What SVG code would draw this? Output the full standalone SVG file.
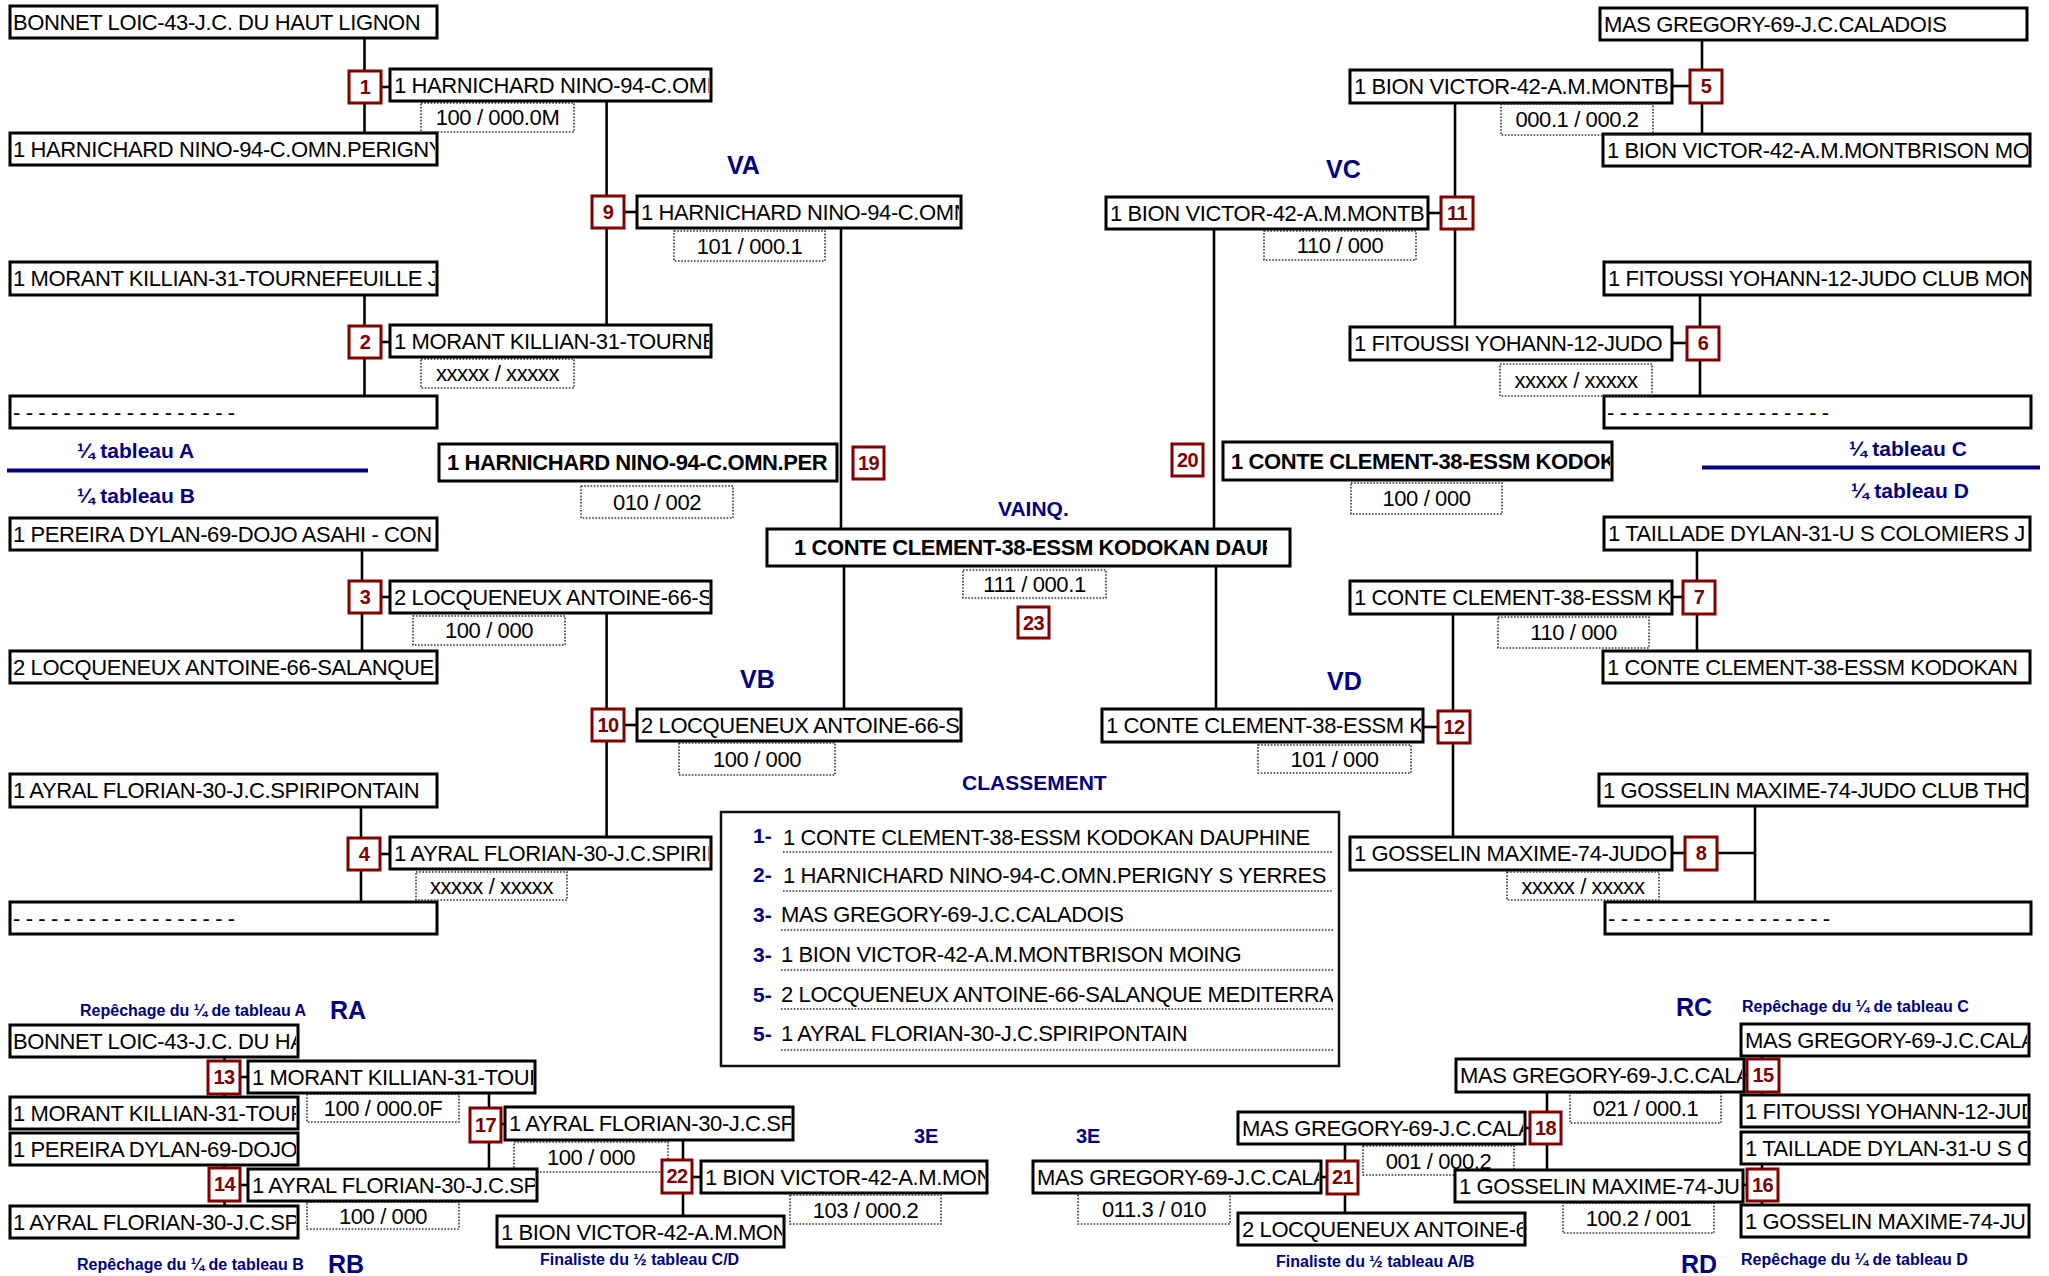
<svg xmlns="http://www.w3.org/2000/svg" width="2049" height="1276" viewBox="0 0 2049 1276">
<style>
text{font-family:"Liberation Sans",Arial,sans-serif}
.pb{fill:#fff;stroke:#000;stroke-width:3}
.t{font-size:22px;letter-spacing:-0.4px;fill:#000}
.tb{font-size:22px;letter-spacing:-0.4px;fill:#000;font-weight:bold}
.rb{fill:#fff;stroke:#800000;stroke-width:3}
.rn{font-size:20px;letter-spacing:-0.5px;font-weight:bold;fill:#800000;text-anchor:middle}
.sb{fill:none;stroke:#333;stroke-width:1.6;stroke-dasharray:1.6 1.6}
.st{font-size:22px;letter-spacing:-0.4px;fill:#000;text-anchor:middle}
.nv{fill:#000080;font-weight:bold}
.big{font-size:25px}
.mid{font-size:21px}
.sm{font-size:16px}
.conn line{stroke:#000;stroke-width:2.6}
.dl{stroke:#333;stroke-width:1.6;stroke-dasharray:1.6 1.6}
</style>

<g id="connectors" class="conn">
<line x1="364.5" y1="38" x2="364.5" y2="133"/>
<line x1="364.5" y1="295" x2="364.5" y2="396"/>
<line x1="362" y1="550" x2="362" y2="651"/>
<line x1="361" y1="807" x2="361" y2="902"/>
<line x1="381" y1="87" x2="390" y2="87"/>
<line x1="381" y1="342" x2="390" y2="342"/>
<line x1="381" y1="597" x2="390" y2="597"/>
<line x1="380" y1="854" x2="390" y2="854"/>
<line x1="606.6" y1="101" x2="606.6" y2="325"/>
<line x1="606.6" y1="613" x2="606.6" y2="837"/>
<line x1="624" y1="212" x2="637" y2="212"/>
<line x1="624" y1="725" x2="637" y2="725"/>
<line x1="841" y1="228" x2="841" y2="529"/>
<line x1="844" y1="566" x2="844" y2="709"/>
<line x1="1702" y1="40" x2="1702" y2="134"/>
<line x1="1700" y1="295" x2="1700" y2="396"/>
<line x1="1697" y1="550" x2="1697" y2="651"/>
<line x1="1755" y1="806" x2="1755" y2="902"/>
<line x1="1672" y1="86" x2="1690" y2="86"/>
<line x1="1672" y1="343" x2="1687" y2="343"/>
<line x1="1672" y1="597" x2="1683" y2="597"/>
<line x1="1672" y1="853" x2="1685" y2="853"/>
<line x1="1717" y1="853" x2="1755" y2="853"/>
<line x1="1455" y1="103" x2="1455" y2="327"/>
<line x1="1453" y1="614" x2="1453" y2="837"/>
<line x1="1428" y1="213" x2="1441" y2="213"/>
<line x1="1423" y1="727" x2="1438" y2="727"/>
<line x1="1214" y1="229" x2="1214" y2="529"/>
<line x1="1216" y1="566" x2="1216" y2="709"/>
<line x1="224.5" y1="1057" x2="224.5" y2="1097"/>
<line x1="224.5" y1="1165" x2="224.5" y2="1206"/>
<line x1="240" y1="1077" x2="248" y2="1077"/>
<line x1="240" y1="1185" x2="248" y2="1185"/>
<line x1="489" y1="1093" x2="489" y2="1169"/>
<line x1="501" y1="1124" x2="505" y2="1124"/>
<line x1="683" y1="1140" x2="683" y2="1216"/>
<line x1="692" y1="1177" x2="701" y2="1177"/>
<line x1="1762" y1="1056" x2="1762" y2="1095"/>
<line x1="1762" y1="1164" x2="1762" y2="1205"/>
<line x1="1744" y1="1075" x2="1747" y2="1075"/>
<line x1="1743" y1="1185" x2="1747" y2="1185"/>
<line x1="1547" y1="1092" x2="1547" y2="1170"/>
<line x1="1525" y1="1128" x2="1530" y2="1128"/>
<line x1="1345" y1="1144" x2="1345" y2="1213"/>
<line x1="1321" y1="1177" x2="1327" y2="1177"/>
</g>

<!-- labels -->
<g id="labels">
<text class="nv mid" x="77" y="458">¼ tableau A</text>
<line x1="7" y1="470.5" x2="368" y2="470.5" stroke="#000080" stroke-width="4"/>
<text class="nv mid" x="77" y="503">¼ tableau B</text>
<text class="nv mid" x="1849" y="456">¼ tableau C</text>
<line x1="1702" y1="467.5" x2="2040" y2="467.5" stroke="#000080" stroke-width="4"/>
<text class="nv mid" x="1851" y="498">¼ tableau D</text>
<text class="nv big" x="727" y="174">VA</text>
<text class="nv big" x="740" y="688">VB</text>
<text class="nv big" x="1326" y="178">VC</text>
<text class="nv big" x="1327" y="690">VD</text>
<text class="nv mid" x="998" y="516">VAINQ.</text>
<text class="nv mid" x="962" y="790">CLASSEMENT</text>
<text class="nv sm" x="80" y="1016">Repêchage du ¼ de tableau A</text>
<text class="nv big" x="330" y="1019">RA</text>
<text class="nv sm" x="77" y="1270">Repêchage du ¼ de tableau B</text>
<text class="nv big" x="328" y="1273">RB</text>
<text class="nv sm" x="540" y="1265">Finaliste du ½ tableau C/D</text>
<text class="nv" font-size="20" x="914" y="1143">3E</text>
<text class="nv" font-size="20" x="1076" y="1143">3E</text>
<text class="nv sm" x="1276" y="1267">Finaliste du ½ tableau A/B</text>
<text class="nv big" x="1676" y="1016">RC</text>
<text class="nv sm" x="1742" y="1012">Repêchage du ¼ de tableau C</text>
<text class="nv big" x="1681" y="1273">RD</text>
<text class="nv sm" x="1741" y="1265">Repêchage du ¼ de tableau D</text>
</g>

<!-- left main column -->
<g id="p-l1"><rect class="pb" x="10" y="6" width="427" height="32"/><svg x="10" y="6" width="425" height="32"><text class="t" x="3" y="24">BONNET LOIC-43-J.C. DU HAUT LIGNON</text></svg></g>
<g id="p-l2"><rect class="pb" x="10" y="133" width="427" height="32"/><svg x="10" y="133" width="425" height="32"><text class="t" x="3" y="24">1 HARNICHARD NINO-94-C.OMN.PERIGNY</text></svg></g>
<g id="p-l3"><rect class="pb" x="10" y="262" width="427" height="33"/><svg x="10" y="262" width="425" height="33"><text class="t" x="3" y="24">1 MORANT KILLIAN-31-TOURNEFEUILLE J</text></svg></g>
<g id="p-l4"><rect class="pb" x="10" y="396" width="427" height="32"/><text class="t" x="13" y="420">- - - - - - - - - - - - - - - - - -</text></g>
<g id="p-l5"><rect class="pb" x="10" y="518" width="427" height="32"/><svg x="10" y="518" width="425" height="32"><text class="t" x="3" y="24">1 PEREIRA DYLAN-69-DOJO ASAHI - CON</text></svg></g>
<g id="p-l6"><rect class="pb" x="10" y="651" width="427" height="32"/><svg x="10" y="651" width="425" height="32"><text class="t" x="3" y="24">2 LOCQUENEUX ANTOINE-66-SALANQUE</text></svg></g>
<g id="p-l7"><rect class="pb" x="10" y="774" width="427" height="33"/><svg x="10" y="774" width="425" height="33"><text class="t" x="3" y="24">1 AYRAL FLORIAN-30-J.C.SPIRIPONTAIN</text></svg></g>
<g id="p-l8"><rect class="pb" x="10" y="902" width="427" height="32"/><text class="t" x="13" y="926">- - - - - - - - - - - - - - - - - -</text></g>

<!-- left round 1 -->
<g id="m1"><rect class="rb" x="349" y="71" width="32" height="32"/><text class="rn" x="365" y="94">1</text></g>
<g id="m2"><rect class="rb" x="349" y="326" width="32" height="32"/><text class="rn" x="365" y="349">2</text></g>
<g id="m3"><rect class="rb" x="349" y="581" width="32" height="32"/><text class="rn" x="365" y="604">3</text></g>
<g id="m4"><rect class="rb" x="348" y="838" width="32" height="32"/><text class="rn" x="364" y="861">4</text></g>
<g id="w1"><rect class="pb" x="390" y="69" width="321" height="32"/><svg x="390" y="69" width="319" height="32"><text class="t" x="4" y="24">1 HARNICHARD NINO-94-C.OMN</text></svg></g>
<g id="w2"><rect class="pb" x="390" y="325" width="321" height="32"/><svg x="390" y="325" width="319" height="32"><text class="t" x="4" y="24">1 MORANT KILLIAN-31-TOURNE</text></svg></g>
<g id="w3"><rect class="pb" x="390" y="581" width="321" height="32"/><svg x="390" y="581" width="319" height="32"><text class="t" x="4" y="24">2 LOCQUENEUX ANTOINE-66-S</text></svg></g>
<g id="w4"><rect class="pb" x="390" y="837" width="321" height="32"/><svg x="390" y="837" width="319" height="32"><text class="t" x="4" y="24">1 AYRAL FLORIAN-30-J.C.SPIRIP</text></svg></g>
<g id="s1"><rect class="sb" x="421" y="103" width="153" height="29"/><text class="st" x="497.5" y="125">100 / 000.0M</text></g>
<g id="s2"><rect class="sb" x="421" y="359" width="153" height="29"/><text class="st" x="497.5" y="381">xxxxx / xxxxx</text></g>
<g id="s3"><rect class="sb" x="413" y="616" width="152" height="29"/><text class="st" x="489" y="638">100 / 000</text></g>
<g id="s4"><rect class="sb" x="416" y="872" width="151" height="28"/><text class="st" x="491.5" y="894">xxxxx / xxxxx</text></g>

<!-- left round 2 -->
<g id="m9"><rect class="rb" x="592" y="196" width="32" height="32"/><text class="rn" x="608" y="219">9</text></g>
<g id="m10"><rect class="rb" x="592" y="709" width="32" height="32"/><text class="rn" x="608" y="732">10</text></g>
<g id="w9"><rect class="pb" x="637" y="196" width="324" height="32"/><svg x="637" y="196" width="322" height="32"><text class="t" x="4" y="24">1 HARNICHARD NINO-94-C.OMN</text></svg></g>
<g id="w10"><rect class="pb" x="637" y="709" width="324" height="32"/><svg x="637" y="709" width="322" height="32"><text class="t" x="4" y="24">2 LOCQUENEUX ANTOINE-66-S</text></svg></g>
<g id="s9"><rect class="sb" x="674" y="231" width="151" height="30"/><text class="st" x="749.5" y="254">101 / 000.1</text></g>
<g id="s10"><rect class="sb" x="679" y="743" width="156" height="32"/><text class="st" x="757" y="767">100 / 000</text></g>

<!-- semi left -->
<g id="m19"><rect class="rb" x="853" y="447" width="31" height="32"/><text class="rn" x="868.5" y="470">19</text></g>
<g id="w19"><rect class="pb" x="439" y="444" width="398" height="37"/><svg x="439" y="444" width="396" height="37"><text class="tb" x="8" y="26">1 HARNICHARD NINO-94-C.OMN.PER</text></svg></g>
<g id="s19"><rect class="sb" x="581" y="486" width="152" height="32"/><text class="st" x="657" y="510">010 / 002</text></g>

<!-- final -->
<g id="w23"><rect class="pb" x="767" y="529" width="523" height="37"/><svg x="767" y="529" width="500" height="37"><text class="tb" x="27" y="26">1 CONTE CLEMENT-38-ESSM KODOKAN DAUP</text></svg></g>
<g id="s23"><rect class="sb" x="963" y="570" width="143" height="28"/><text class="st" x="1034.5" y="592">111 / 000.1</text></g>
<g id="m23"><rect class="rb" x="1018" y="607" width="31" height="31"/><text class="rn" x="1033.5" y="629.5">23</text></g>

<!-- semi right -->
<g id="m20"><rect class="rb" x="1172" y="444" width="31" height="32"/><text class="rn" x="1187.5" y="467">20</text></g>
<g id="w20"><rect class="pb" x="1223" y="442" width="389" height="38"/><svg x="1223" y="442" width="387" height="38"><text class="tb" x="8" y="27">1 CONTE CLEMENT-38-ESSM KODOK</text></svg></g>
<g id="s20"><rect class="sb" x="1351" y="483" width="151" height="31"/><text class="st" x="1426.5" y="506">100 / 000</text></g>

<!-- right round 2 -->
<g id="m11"><rect class="rb" x="1441" y="197" width="32" height="32"/><text class="rn" x="1457" y="220">11</text></g>
<g id="m12"><rect class="rb" x="1438" y="711" width="32" height="32"/><text class="rn" x="1454" y="734">12</text></g>
<g id="w11"><rect class="pb" x="1106" y="197" width="322" height="32"/><svg x="1106" y="197" width="320" height="32"><text class="t" x="4" y="24">1 BION VICTOR-42-A.M.MONTB</text></svg></g>
<g id="w12"><rect class="pb" x="1102" y="709" width="321" height="33"/><svg x="1102" y="709" width="319" height="33"><text class="t" x="4" y="24">1 CONTE CLEMENT-38-ESSM K</text></svg></g>
<g id="s11"><rect class="sb" x="1264" y="231" width="152" height="29"/><text class="st" x="1340" y="253">110 / 000</text></g>
<g id="s12"><rect class="sb" x="1258" y="745" width="153" height="28"/><text class="st" x="1334.5" y="767">101 / 000</text></g>

<!-- right main column -->
<g id="p-r1"><rect class="pb" x="1600" y="8" width="427" height="32"/><svg x="1600" y="8" width="425" height="32"><text class="t" x="4" y="24">MAS GREGORY-69-J.C.CALADOIS</text></svg></g>
<g id="p-r2"><rect class="pb" x="1603" y="134" width="427" height="32"/><svg x="1603" y="134" width="425" height="32"><text class="t" x="4" y="24">1 BION VICTOR-42-A.M.MONTBRISON MO</text></svg></g>
<g id="p-r3"><rect class="pb" x="1604" y="262" width="426" height="33"/><svg x="1604" y="262" width="424" height="33"><text class="t" x="4" y="24">1 FITOUSSI YOHANN-12-JUDO CLUB MON</text></svg></g>
<g id="p-r4"><rect class="pb" x="1604" y="396" width="427" height="32"/><text class="t" x="1607" y="420">- - - - - - - - - - - - - - - - - -</text></g>
<g id="p-r5"><rect class="pb" x="1604" y="517" width="426" height="33"/><svg x="1604" y="517" width="424" height="33"><text class="t" x="4" y="24">1 TAILLADE DYLAN-31-U S COLOMIERS J</text></svg></g>
<g id="p-r6"><rect class="pb" x="1603" y="651" width="427" height="32"/><svg x="1603" y="651" width="425" height="32"><text class="t" x="4" y="24">1 CONTE CLEMENT-38-ESSM KODOKAN</text></svg></g>
<g id="p-r7"><rect class="pb" x="1599" y="774" width="428" height="32"/><svg x="1599" y="774" width="426" height="32"><text class="t" x="4" y="24">1 GOSSELIN MAXIME-74-JUDO CLUB THO</text></svg></g>
<g id="p-r8"><rect class="pb" x="1605" y="902" width="426" height="32"/><text class="t" x="1608" y="926">- - - - - - - - - - - - - - - - - -</text></g>

<!-- right round 1 -->
<g id="m5"><rect class="rb" x="1690" y="70" width="32" height="33"/><text class="rn" x="1706" y="93">5</text></g>
<g id="m6"><rect class="rb" x="1687" y="327" width="32" height="33"/><text class="rn" x="1703" y="350">6</text></g>
<g id="m7"><rect class="rb" x="1683" y="581" width="32" height="33"/><text class="rn" x="1699" y="604">7</text></g>
<g id="m8"><rect class="rb" x="1685" y="837" width="32" height="33"/><text class="rn" x="1701" y="860">8</text></g>
<g id="w5"><rect class="pb" x="1350" y="70" width="322" height="33"/><svg x="1350" y="70" width="320" height="33"><text class="t" x="4" y="24">1 BION VICTOR-42-A.M.MONTB</text></svg></g>
<g id="w6"><rect class="pb" x="1350" y="327" width="322" height="33"/><svg x="1350" y="327" width="320" height="33"><text class="t" x="4" y="24">1 FITOUSSI YOHANN-12-JUDO</text></svg></g>
<g id="w7"><rect class="pb" x="1350" y="581" width="322" height="33"/><svg x="1350" y="581" width="320" height="33"><text class="t" x="4" y="24">1 CONTE CLEMENT-38-ESSM K</text></svg></g>
<g id="w8"><rect class="pb" x="1350" y="837" width="322" height="33"/><svg x="1350" y="837" width="320" height="33"><text class="t" x="4" y="24">1 GOSSELIN MAXIME-74-JUDO</text></svg></g>
<g id="s5"><rect class="sb" x="1501" y="104" width="152" height="31"/><text class="st" x="1577" y="127">000.1 / 000.2</text></g>
<g id="s6"><rect class="sb" x="1500" y="364" width="152" height="32"/><text class="st" x="1576" y="388">xxxxx / xxxxx</text></g>
<g id="s7"><rect class="sb" x="1498" y="617" width="151" height="31"/><text class="st" x="1573.5" y="640">110 / 000</text></g>
<g id="s8"><rect class="sb" x="1507" y="872" width="152" height="28"/><text class="st" x="1583" y="894">xxxxx / xxxxx</text></g>

<!-- classement -->
<g id="classement">
<rect x="721" y="812" width="618" height="254" fill="#fff" stroke="#111" stroke-width="2.5"/>
<text class="nv mid" x="753" y="843">1-</text>
<text class="nv mid" x="753" y="882">2-</text>
<text class="nv mid" x="753" y="922">3-</text>
<text class="nv mid" x="753" y="962">3-</text>
<text class="nv mid" x="753" y="1002">5-</text>
<text class="nv mid" x="753" y="1041">5-</text>
<svg x="721" y="812" width="612" height="254">
<text class="t" x="62" y="33">1 CONTE CLEMENT-38-ESSM KODOKAN DAUPHINE</text>
<text class="t" x="62" y="71">1 HARNICHARD NINO-94-C.OMN.PERIGNY S YERRES</text>
<text class="t" x="60" y="110">MAS GREGORY-69-J.C.CALADOIS</text>
<text class="t" x="60" y="150">1 BION VICTOR-42-A.M.MONTBRISON MOING</text>
<text class="t" x="60" y="190">2 LOCQUENEUX ANTOINE-66-SALANQUE MEDITERRANEE</text>
<text class="t" x="60" y="229">1 AYRAL FLORIAN-30-J.C.SPIRIPONTAIN</text>
</svg>
<line class="dl" x1="783" y1="852" x2="1333" y2="852"/>
<line class="dl" x1="783" y1="891" x2="1333" y2="891"/>
<line class="dl" x1="781" y1="930" x2="1333" y2="930"/>
<line class="dl" x1="781" y1="970" x2="1333" y2="970"/>
<line class="dl" x1="781" y1="1009" x2="1333" y2="1009"/>
<line class="dl" x1="781" y1="1050" x2="1333" y2="1050"/>
</g>

<!-- repechage left -->
<g id="p-ra1"><rect class="pb" x="10" y="1025" width="288" height="32"/><svg x="10" y="1025" width="286" height="32"><text class="t" x="3" y="24">BONNET LOIC-43-J.C. DU HA</text></svg></g>
<g id="p-ra2"><rect class="pb" x="10" y="1097" width="288" height="32"/><svg x="10" y="1097" width="286" height="32"><text class="t" x="3" y="24">1 MORANT KILLIAN-31-TOUR</text></svg></g>
<g id="p-rb1"><rect class="pb" x="10" y="1133" width="288" height="32"/><svg x="10" y="1133" width="286" height="32"><text class="t" x="3" y="24">1 PEREIRA DYLAN-69-DOJO</text></svg></g>
<g id="p-rb2"><rect class="pb" x="10" y="1206" width="288" height="32"/><svg x="10" y="1206" width="286" height="32"><text class="t" x="3" y="24">1 AYRAL FLORIAN-30-J.C.SP</text></svg></g>
<g id="m13"><rect class="rb" x="208" y="1061" width="32" height="33"/><text class="rn" x="224" y="1084">13</text></g>
<g id="m14"><rect class="rb" x="209" y="1168" width="31" height="33"/><text class="rn" x="224.5" y="1191">14</text></g>
<g id="s13"><rect class="sb" x="307" y="1094" width="152" height="28"/><text class="st" x="383" y="1116">100 / 000.0F</text></g>
<g id="s14"><rect class="sb" x="307" y="1202" width="152" height="27"/><text class="st" x="383" y="1224">100 / 000</text></g>
<g id="s17"><rect class="sb" x="514" y="1142" width="154" height="30"/><text class="st" x="591" y="1165">100 / 000</text></g>
<g id="w13"><rect class="pb" x="248" y="1061" width="287" height="32"/><svg x="248" y="1061" width="285" height="32"><text class="t" x="4" y="24">1 MORANT KILLIAN-31-TOUR</text></svg></g>
<g id="w14"><rect class="pb" x="248" y="1169" width="289" height="32"/><svg x="248" y="1169" width="287" height="32"><text class="t" x="4" y="24">1 AYRAL FLORIAN-30-J.C.SP</text></svg></g>
<g id="m17"><rect class="rb" x="470" y="1108" width="31" height="34"/><text class="rn" x="485.5" y="1132">17</text></g>
<g id="w17"><rect class="pb" x="505" y="1107" width="288" height="33"/><svg x="505" y="1107" width="286" height="33"><text class="t" x="4" y="24">1 AYRAL FLORIAN-30-J.C.SP</text></svg></g>
<g id="m22"><rect class="rb" x="662" y="1160" width="30" height="33"/><text class="rn" x="677" y="1183">22</text></g>
<g id="w22"><rect class="pb" x="701" y="1161" width="286" height="32"/><svg x="701" y="1161" width="284" height="32"><text class="t" x="4" y="24">1 BION VICTOR-42-A.M.MON</text></svg></g>
<g id="s22"><rect class="sb" x="790" y="1195" width="151" height="29"/><text class="st" x="865.5" y="1218">103 / 000.2</text></g>
<g id="p-f1"><rect class="pb" x="497" y="1216" width="287" height="31"/><svg x="497" y="1216" width="285" height="31"><text class="t" x="4" y="24">1 BION VICTOR-42-A.M.MON</text></svg></g>

<!-- repechage right -->
<g id="p-rc1"><rect class="pb" x="1741" y="1024" width="288" height="32"/><svg x="1741" y="1024" width="286" height="32"><text class="t" x="4" y="24">MAS GREGORY-69-J.C.CALA</text></svg></g>
<g id="p-rc2"><rect class="pb" x="1741" y="1095" width="288" height="32"/><svg x="1741" y="1095" width="286" height="32"><text class="t" x="4" y="24">1 FITOUSSI YOHANN-12-JUD</text></svg></g>
<g id="p-rd1"><rect class="pb" x="1741" y="1132" width="288" height="32"/><svg x="1741" y="1132" width="286" height="32"><text class="t" x="4" y="24">1 TAILLADE DYLAN-31-U S C</text></svg></g>
<g id="p-rd2"><rect class="pb" x="1741" y="1205" width="288" height="32"/><svg x="1741" y="1205" width="286" height="32"><text class="t" x="4" y="24">1 GOSSELIN MAXIME-74-JUD</text></svg></g>
<g id="m15"><rect class="rb" x="1747" y="1059" width="32" height="33"/><text class="rn" x="1763" y="1082">15</text></g>
<g id="m16"><rect class="rb" x="1747" y="1169" width="31" height="32"/><text class="rn" x="1762.5" y="1192">16</text></g>
<g id="s15"><rect class="sb" x="1570" y="1093" width="151" height="30"/><text class="st" x="1645.5" y="1116">021 / 000.1</text></g>
<g id="s16"><rect class="sb" x="1563" y="1203" width="151" height="30"/><text class="st" x="1638.5" y="1226">100.2 / 001</text></g>
<g id="s18"><rect class="sb" x="1363" y="1146" width="151" height="29"/><text class="st" x="1438.5" y="1169">001 / 000.2</text></g>
<g id="w15"><rect class="pb" x="1456" y="1059" width="288" height="33"/><svg x="1456" y="1059" width="286" height="33"><text class="t" x="4" y="24">MAS GREGORY-69-J.C.CALA</text></svg></g>
<g id="w16"><rect class="pb" x="1455" y="1170" width="288" height="32"/><svg x="1455" y="1170" width="286" height="32"><text class="t" x="4" y="24">1 GOSSELIN MAXIME-74-JUD</text></svg></g>
<g id="m18"><rect class="rb" x="1530" y="1112" width="31" height="32"/><text class="rn" x="1545.5" y="1135">18</text></g>
<g id="w18"><rect class="pb" x="1238" y="1112" width="287" height="32"/><svg x="1238" y="1112" width="285" height="32"><text class="t" x="4" y="24">MAS GREGORY-69-J.C.CALA</text></svg></g>
<g id="m21"><rect class="rb" x="1327" y="1161" width="31" height="33"/><text class="rn" x="1342.5" y="1184">21</text></g>
<g id="w21"><rect class="pb" x="1033" y="1161" width="288" height="32"/><svg x="1033" y="1161" width="286" height="32"><text class="t" x="4" y="24">MAS GREGORY-69-J.C.CALA</text></svg></g>
<g id="s21"><rect class="sb" x="1078" y="1194" width="152" height="30"/><text class="st" x="1154" y="1217">011.3 / 010</text></g>
<g id="p-f2"><rect class="pb" x="1238" y="1213" width="287" height="32"/><svg x="1238" y="1213" width="285" height="32"><text class="t" x="4" y="24">2 LOCQUENEUX ANTOINE-6</text></svg></g>
</svg>
